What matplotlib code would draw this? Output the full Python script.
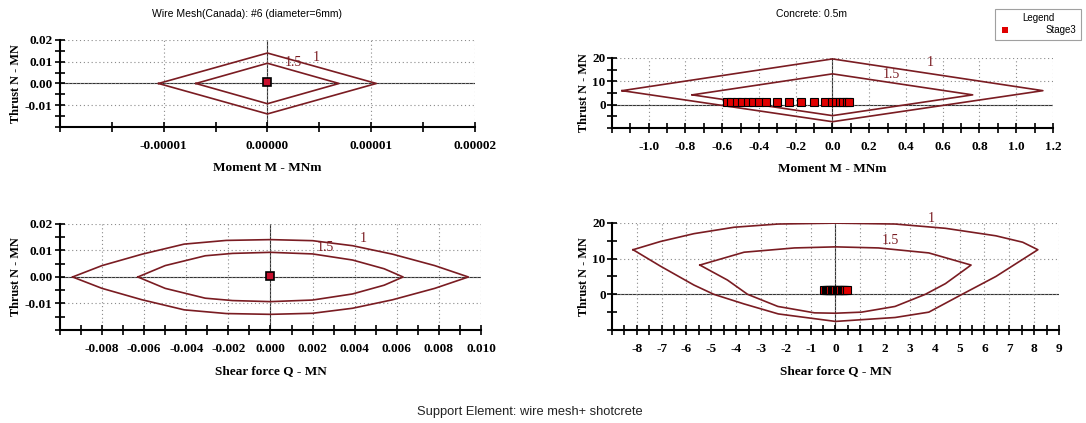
import numpy as np
import matplotlib
matplotlib.use('Agg')
import matplotlib.pyplot as plt
from matplotlib.ticker import FixedLocator, FormatStrFormatter

# ---- data ----
# wire mesh, thrust vs moment (diamonds, FS = 1 and 1.5)
mesh_m_fs1 = [-0.0000105, 0.0, 0.0000105, 0.0, -0.0000105]
mesh_n_fs1 = [0.0, 0.014, 0.0, -0.014, 0.0]
mesh_m_fs15 = [-0.0000069, 0.0, 0.0000069, 0.0, -0.0000069]
mesh_n_fs15 = [0.0, 0.0093, 0.0, -0.0093, 0.0]

# wire mesh, thrust vs shear
mesh_q_fs1 = [-0.0094, -0.0080, -0.0061, -0.0041, -0.0021, 0.0, 0.0020, 0.0039, 0.0058, 0.0078, 0.0094,
              0.0078, 0.0058, 0.0039, 0.0020, 0.0, -0.0021, -0.0041, -0.0061, -0.0080, -0.0094]
mesh_nq_fs1 = [0.0, 0.0043, 0.0086, 0.0124, 0.0138, 0.0141, 0.0137, 0.0118, 0.0086, 0.0043, 0.0,
               -0.0043, -0.0086, -0.0118, -0.0137, -0.0141, -0.0138, -0.0124, -0.0086, -0.0043, 0.0]
mesh_q_fs15 = [-0.0063, -0.0050, -0.0031, -0.0018, 0.0, 0.0020, 0.0039, 0.0054, 0.0063,
               0.0054, 0.0039, 0.0020, 0.0, -0.0018, -0.0031, -0.0050, -0.0063]
mesh_nq_fs15 = [0.0, 0.0043, 0.0080, 0.0089, 0.0093, 0.0087, 0.0064, 0.0031, 0.0,
                -0.0031, -0.0064, -0.0087, -0.0093, -0.0089, -0.0080, -0.0043, 0.0]

mesh_m = [0.0]
mesh_q = [0.0]
mesh_n = [0.0005]

# concrete, thrust vs moment
conc_m_fs1 = [-1.145, 0.0, 1.145, 0.0, -1.145]
conc_n_fs1 = [6.0, 19.6, 6.0, -7.3, 6.0]
conc_m_fs15 = [-0.763, 0.0, 0.763, 0.0, -0.763]
conc_n_fs15 = [4.2, 13.2, 4.2, -4.7, 4.2]

# concrete, thrust vs shear
conc_q_fs1 = [-8.15, -7.05, -5.7, -4.08, -2.32, 0.0, 2.4, 4.43, 6.46, 7.54, 8.15,
              6.46, 5.1, 3.76, 2.4, 0.0, -2.3, -3.68, -4.9, -5.7, -7.05, -8.15]
conc_nq_fs1 = [12.5, 14.8, 17.0, 18.8, 19.7, 19.95, 19.7, 18.5, 16.4, 14.6, 12.5,
               5.0, 0.0, -5.0, -6.5, -7.6, -5.5, -2.7, 0.0, 2.6, 7.9, 12.5]
conc_q_fs15 = [-5.46, -3.68, -1.65, 0.0, 1.73, 3.76, 5.46,
               4.43, 3.62, 2.4, 1.05, 0.0, -0.84, -2.32, -3.54, -4.35, -5.46]
conc_nq_fs15 = [8.2, 11.8, 13.0, 13.3, 13.0, 11.6, 8.2,
                3.0, 0.0, -3.4, -5.0, -5.3, -5.2, -3.4, 0.0, 4.0, 8.2]

# Stage3 results
stage_m = [-0.575, -0.55, -0.52, -0.49, -0.46, -0.43, -0.40, -0.36, -0.30, -0.235,
           -0.17, -0.10, -0.04, 0.0, 0.02, 0.04, 0.06, 0.08, 0.09]
stage_q = [-0.45, -0.40, -0.35, -0.30, -0.25, -0.20, -0.15, -0.10, -0.05, 0.0,
           0.05, 0.10, 0.15, 0.20, 0.25, 0.30, 0.35, 0.40, 0.45]
stage_n = [1.3] * len(stage_m)

curve_col = '#7a1c22'
serif = ['Liberation Serif', 'DejaVu Serif']
sans = ['Liberation Sans', 'DejaVu Sans']

fig = plt.figure(figsize=(10.86, 4.23), dpi=100)


def ticks(a, b, step):
    # clean values so that no "-0.0" shows up
    return np.round(np.arange(a, b + step / 2, step), 8) + 0.0


def setup(ax, xlim, ylim, xmaj, xmin, ymaj, ymin, xfmt, yfmt, xlabel, ypad=2):
    ax.set_xlim(xlim)
    ax.set_ylim(ylim)
    ax.xaxis.set_major_locator(FixedLocator(xmaj))
    ax.xaxis.set_minor_locator(FixedLocator(xmin))
    ax.yaxis.set_major_locator(FixedLocator(ymaj))
    ax.yaxis.set_minor_locator(FixedLocator(ymin))
    ax.xaxis.set_major_formatter(FormatStrFormatter(xfmt))
    ax.yaxis.set_major_formatter(FormatStrFormatter(yfmt))
    for s in ['top', 'right']:
        ax.spines[s].set_visible(False)
    for s in ['left', 'bottom']:
        ax.spines[s].set_linewidth(1.5)
    ax.tick_params(which='both', direction='inout', length=7, width=1.2)
    ax.tick_params(axis='x', which='both', pad=6)
    ax.tick_params(axis='y', which='both', pad=ypad)
    ax.grid(True, which='major', linestyle=(0, (1, 2.5)), color='#8a8a8a', linewidth=0.8)
    ax.axhline(0, color='#333333', lw=0.8, zorder=1)
    ax.axvline(0, color='#333333', lw=0.8, zorder=1)
    for lab in ax.get_xticklabels() + ax.get_yticklabels():
        lab.set_fontfamily(serif)
        lab.set_fontweight('bold')
        lab.set_fontsize(9.5)
    ax.set_xlabel(xlabel, fontfamily=serif, fontweight='bold', fontsize=9.5, labelpad=7)
    ax.set_ylabel('Thrust N - MN', fontfamily=serif, fontweight='bold', fontsize=8.8, labelpad=2)


def fs_labels(ax, p1, p15):
    ax.text(p1[0], p1[1], '1', color=curve_col, fontfamily=serif, fontsize=10, ha='center', va='center')
    ax.text(p15[0], p15[1], '1.5', color=curve_col, fontfamily=serif, fontsize=10, ha='center', va='center')


# top left: wire mesh M-N
ax1 = fig.add_axes([0.0552, 0.6998, 0.3821, 0.2057])
ax1.plot(mesh_m_fs1, mesh_n_fs1, color=curve_col, lw=1.2)
ax1.plot(mesh_m_fs15, mesh_n_fs15, color=curve_col, lw=1.2)
ax1.plot(mesh_m, mesh_n, 's', ms=5.5, mfc='#c8102e', mec='black', mew=1.2, zorder=5)
setup(ax1, (-0.00002, 0.00002), (-0.02, 0.02),
      ticks(-0.00001, 0.00002, 0.00001), ticks(-0.00002, 0.00002, 0.000005),
      ticks(-0.01, 0.02, 0.01), ticks(-0.02, 0.02, 0.005),
      '%.5f', '%.2f', 'Moment M - MNm')
fs_labels(ax1, (0.0000047, 0.0120), (0.0000025, 0.0095))

# top right: concrete M-N
ax2 = fig.add_axes([0.5635, 0.6974, 0.4061, 0.1655])
ax2.plot(conc_m_fs1, conc_n_fs1, color=curve_col, lw=1.2)
ax2.plot(conc_m_fs15, conc_n_fs15, color=curve_col, lw=1.2)
h_stage, = ax2.plot(stage_m, stage_n, 's', ms=5.5, mfc='#e00000', mec='black', mew=0.8, zorder=5)
setup(ax2, (-1.2, 1.2), (-10, 20),
      ticks(-1.0, 1.2, 0.2), ticks(-1.2, 1.2, 0.1),
      ticks(0, 20, 10), ticks(-10, 20, 5),
      '%.1f', '%d', 'Moment M - MNm', ypad=1)
fs_labels(ax2, (0.53, 18.0), (0.32, 13.0))

# bottom left: wire mesh Q-N
ax3 = fig.add_axes([0.0552, 0.2199, 0.3877, 0.2506])
ax3.plot(mesh_q_fs1, mesh_nq_fs1, color=curve_col, lw=1.2)
ax3.plot(mesh_q_fs15, mesh_nq_fs15, color=curve_col, lw=1.2)
ax3.plot(mesh_q, mesh_n, 's', ms=5.5, mfc='#c8102e', mec='black', mew=1.2, zorder=5)
setup(ax3, (-0.01, 0.01), (-0.02, 0.02),
      ticks(-0.008, 0.010, 0.002), ticks(-0.01, 0.01, 0.001),
      ticks(-0.01, 0.02, 0.01), ticks(-0.02, 0.02, 0.005),
      '%.3f', '%.2f', 'Shear force Q - MN')
fs_labels(ax3, (0.0044, 0.0146), (0.0026, 0.0111))

# bottom right: concrete Q-N
ax4 = fig.add_axes([0.5635, 0.2199, 0.4116, 0.2530])
ax4.plot(conc_q_fs1, conc_nq_fs1, color=curve_col, lw=1.2)
ax4.plot(conc_q_fs15, conc_nq_fs15, color=curve_col, lw=1.2)
ax4.plot(stage_q, stage_n, 's', ms=5.5, mfc='#e00000', mec='black', mew=0.8, zorder=5)
setup(ax4, (-9, 9), (-10, 20),
      ticks(-8, 9, 1), ticks(-9, 9, 0.5),
      ticks(0, 20, 10), ticks(-10, 20, 5),
      '%d', '%d', 'Shear force Q - MN', ypad=1)
fs_labels(ax4, (3.85, 21.3), (2.2, 15.0))

# titles and caption
fig.text(0.2275, 0.967, 'Wire Mesh(Canada): #6 (diameter=6mm)', fontfamily=sans, fontsize=7.5,
         ha='center', va='center')
fig.text(0.747, 0.967, 'Concrete: 0.5m', fontfamily=sans, fontsize=7.5, ha='center', va='center')
fig.text(0.488, 0.026, 'Support Element: wire mesh+ shotcrete', fontfamily=sans, fontsize=9.3,
         ha='center', va='center', color='#222222')

leg = fig.legend(handles=[h_stage], labels=['Stage3'], title='Legend', loc='upper right',
                 bbox_to_anchor=(1.0, 0.99), frameon=True, fancybox=False,
                 handletextpad=3.6, borderpad=0.45, labelspacing=0.2, handlelength=1.2,
                 prop={'family': sans, 'size': 7}, title_fontproperties={'family': sans, 'size': 7})
leg.get_frame().set_edgecolor('#888888')
leg.get_frame().set_linewidth(0.8)
leg.legend_handles[0].set_markeredgewidth(0)
leg.legend_handles[0].set_markersize(5)

plt.savefig('out.png', dpi=100)
